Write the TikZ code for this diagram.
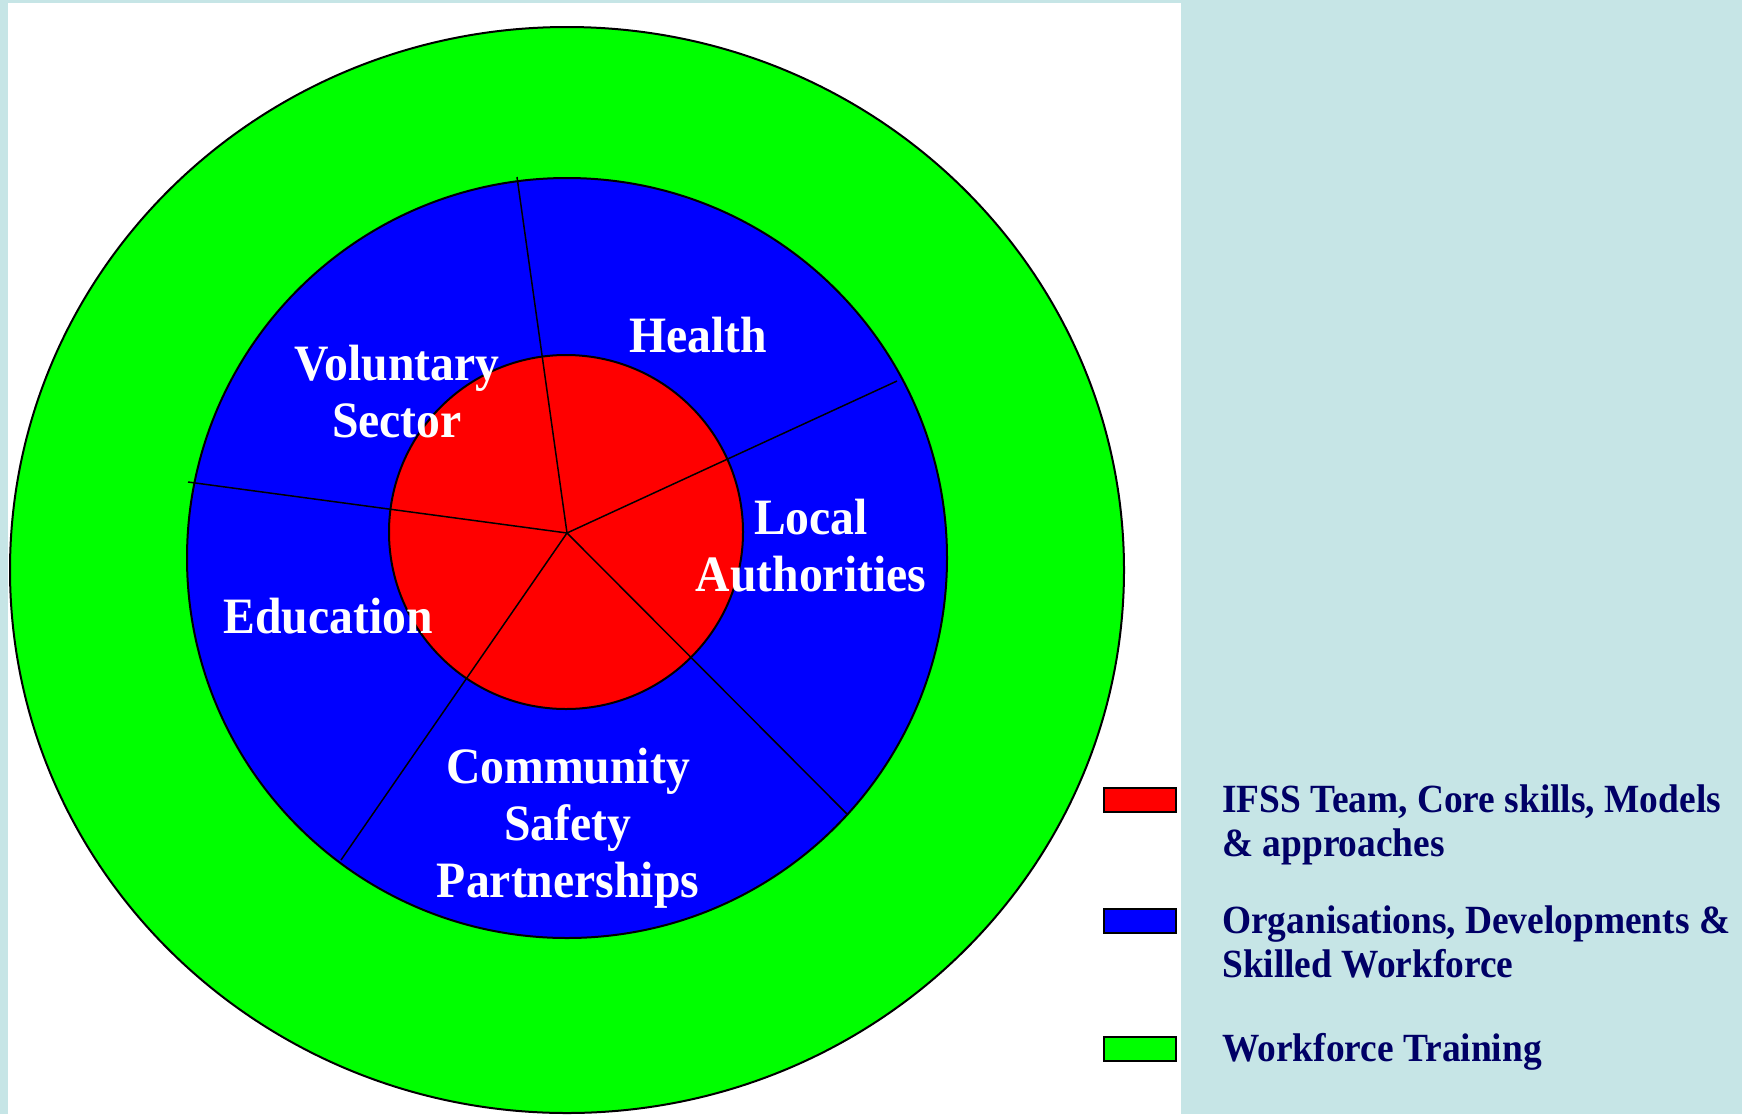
\documentclass[tikz,border=0pt]{standalone}
\usepackage{fontspec}
\setmainfont{Liberation Serif}[FakeStretch=0.935]
\definecolor{bgteal}{RGB}{198,229,230}
\definecolor{ringgreen}{RGB}{0,255,0}
\definecolor{midblue}{RGB}{0,0,255}
\definecolor{corered}{RGB}{255,0,0}
\definecolor{legnavy}{RGB}{0,0,102}
\tikzset{
  ring/.style={draw=black, line width=2pt},
  spoke/.style={draw=black, line width=1.5pt},
  lbl/.style={text=white, font=\bfseries\fontsize{51}{57}\selectfont, align=center, inner sep=0pt},
  legtxt/.style={text=legnavy, font=\bfseries\fontsize{40}{44.5}\selectfont, align=left, inner sep=0pt},
  swatch/.style={draw=black, line width=2pt, minimum width=72pt, minimum height=24pt, inner sep=0pt}
}
\begin{document}
\begin{tikzpicture}[x=1pt,y=-1pt]
\useasboundingbox (0,0) rectangle (1742,1114);
\fill[bgteal] (0,0) rectangle (1742,1114);
\fill[white] (8,3) rectangle (1181,1114);
% rings
\filldraw[ring, fill=ringgreen] (567,570) ellipse [x radius=557, y radius=543];
\filldraw[ring, fill=midblue] (567,558) circle [radius=380];
\filldraw[ring, fill=corered] (566,532) circle [radius=177];
% spokes
\coordinate (hub) at (567,533);
\coordinate (pTop) at (517,177);
\coordinate (pUR) at (897,381);
\coordinate (pLR) at (847,814);
\coordinate (pLL) at (341,860);
\coordinate (pL) at (188,482);
\draw[spoke] (hub) -- (pTop);
\draw[spoke] (hub) -- (pUR);
\draw[spoke] (hub) -- (pLR);
\draw[spoke] (hub) -- (pLL);
\draw[spoke] (hub) -- (pL);
% labels
\node[lbl] (health) at (698,335) {Health};
\node[lbl] (vol) at (397,392) {Voluntary\\Sector};
\node[lbl] (local) at (811,546) {Local\\Authorities};
\node[lbl] (edu) at (328,616) {Education};
\node[lbl] (csp) at (568,828) {Community\\Safety\\Partnerships};
% legend
\node[swatch, fill=corered] (sw1) at (1140,800) {};
\node[swatch, fill=midblue] (sw2) at (1140,921) {};
\node[swatch, fill=ringgreen] (sw3) at (1140,1049) {};
\node[legtxt, anchor=west] (lg1) at (1222,825) {IFSS Team, Core skills, Models\\\& approaches};
\node[legtxt, anchor=west] (lg2) at (1222,942) {Organisations, Developments \&\\Skilled Workforce};
\node[legtxt, anchor=base west] (lg3) at (1222,1061) {Workforce Training};
\end{tikzpicture}
\end{document}
